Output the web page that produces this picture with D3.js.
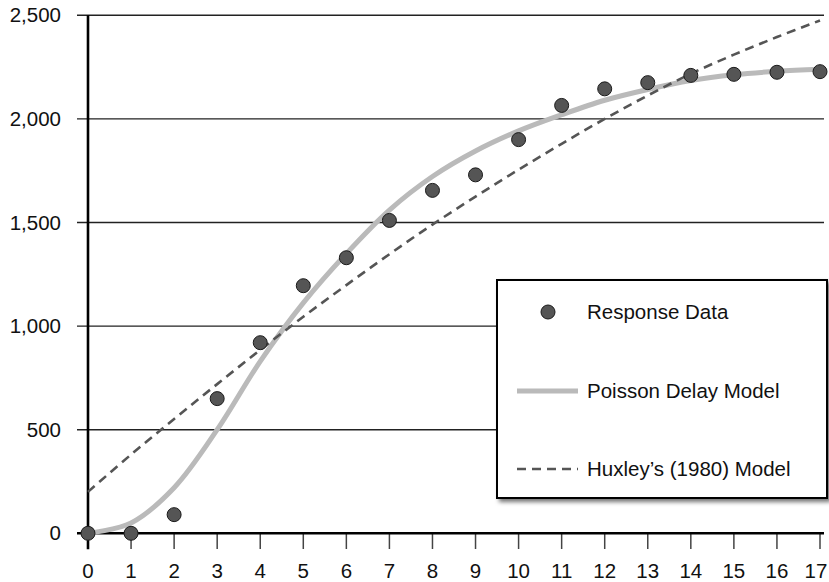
<!DOCTYPE html>
<html><head><meta charset="utf-8">
<script src="https://cdn.jsdelivr.net/npm/d3@7"></script>
<style>
html,body{margin:0;padding:0;background:#fff;}
svg{display:block;font-family:"Liberation Sans",Arial,Helvetica,sans-serif;}
</style></head>
<body>
<svg id="chart" width="829" height="582"></svg>
<script>
const xCategories = d3.range(0, 18);
const responseData = [0, 0, 90, 650, 920, 1195, 1330, 1510, 1655, 1730, 1900, 2065, 2145, 2175, 2210, 2215, 2225, 2228];
const poissonModel = [0, 50, 220, 500, 830, 1112, 1350, 1560, 1722, 1845, 1942, 2020, 2090, 2142, 2185, 2213, 2230, 2240];
const huxleyModel = [200, 380, 552, 720, 885, 1045, 1198, 1347, 1490, 1625, 1755, 1880, 2000, 2113, 2218, 2310, 2395, 2475];
const yTicks = [0, 500, 1000, 1500, 2000, 2500];
const legendLabels = ["Response Data", "Poisson Delay Model", "Huxley\u2019s (1980) Model"];

const svg = d3.select("#chart");
const x = d3.scaleLinear().domain([0, 17]).range([88, 820]);
const y = d3.scaleLinear().domain([0, 2500]).range([533.3, 15.3]);

const defs = svg.append("defs");
const f = defs.append("filter").attr("id", "shadow").attr("x", "-10%").attr("y", "-10%").attr("width", "130%").attr("height", "130%");
f.append("feDropShadow").attr("dx", 3).attr("dy", 3).attr("stdDeviation", 2).attr("flood-color", "#000").attr("flood-opacity", 0.55);

// gridlines
svg.append("g").selectAll("line").data(yTicks.filter(d => d > 0)).join("line")
  .attr("x1", 77).attr("x2", 824)
  .attr("y1", d => y(d)).attr("y2", d => y(d))
  .attr("stroke", "#222").attr("stroke-width", 1.4);

// y axis labels
svg.append("g").selectAll("text").data(yTicks).join("text")
  .attr("x", 61).attr("y", d => y(d)).attr("dy", "0.35em")
  .attr("text-anchor", "end").attr("font-size", 20.5).attr("fill", "#111")
  .text(d => d3.format(",")(d));

// x ticks
svg.append("g").selectAll("line").data(xCategories).join("line")
  .attr("x1", d => x(d)).attr("x2", d => x(d))
  .attr("y1", 533).attr("y2", 549)
  .attr("stroke", "#444").attr("stroke-width", 1.5);
svg.append("g").selectAll("text").data(xCategories).join("text")
  .attr("x", d => Math.min(x(d), 816)).attr("y", 578)
  .attr("text-anchor", "middle").attr("font-size", 20.5).attr("fill", "#111")
  .text(d => d);

// axes lines
svg.append("line").attr("x1", 77).attr("x2", 824).attr("y1", y(0)).attr("y2", y(0))
  .attr("stroke", "#000").attr("stroke-width", 2.6);
svg.append("line").attr("x1", x(0)).attr("x2", x(0)).attr("y1", y(2500)).attr("y2", y(0) + 16)
  .attr("stroke", "#000").attr("stroke-width", 2.6);

// models
const line = arr => d3.line().x((d, i) => x(xCategories[i])).y(d => y(d)).curve(d3.curveCatmullRom.alpha(0.5))(arr);
svg.append("path").attr("d", line(poissonModel)).attr("fill", "none")
  .attr("stroke", "#bababa").attr("stroke-width", 5).attr("stroke-linecap", "round");
svg.append("path").attr("d", line(huxleyModel)).attr("fill", "none")
  .attr("stroke", "#555").attr("stroke-width", 2.6).attr("stroke-dasharray", "9,6");

// points
svg.append("g").selectAll("circle").data(responseData).join("circle")
  .attr("cx", (d, i) => x(xCategories[i])).attr("cy", d => y(d)).attr("r", 7)
  .attr("fill", "#555").attr("stroke", "#1a1a1a").attr("stroke-width", 1);

// legend
const lg = svg.append("g");
lg.append("rect").attr("x", 497).attr("y", 280).attr("width", 330).attr("height", 218)
  .attr("fill", "#fff").attr("stroke", "#000").attr("stroke-width", 2).attr("filter", "url(#shadow)");
const rows = [312, 391, 469];
lg.append("circle").attr("cx", 548).attr("cy", rows[0]).attr("r", 7)
  .attr("fill", "#555").attr("stroke", "#1a1a1a").attr("stroke-width", 1);
lg.append("line").attr("x1", 517).attr("x2", 578).attr("y1", rows[1]).attr("y2", rows[1])
  .attr("stroke", "#bababa").attr("stroke-width", 5);
lg.append("line").attr("x1", 517).attr("x2", 578).attr("y1", rows[2]).attr("y2", rows[2])
  .attr("stroke", "#555").attr("stroke-width", 2.6).attr("stroke-dasharray", "9,6");
lg.selectAll("text").data(legendLabels).join("text")
  .attr("x", 587).attr("y", (d, i) => rows[i]).attr("dy", "0.35em")
  .attr("font-size", 20.5).attr("fill", "#111").text(d => d);
</script>
</body></html>
